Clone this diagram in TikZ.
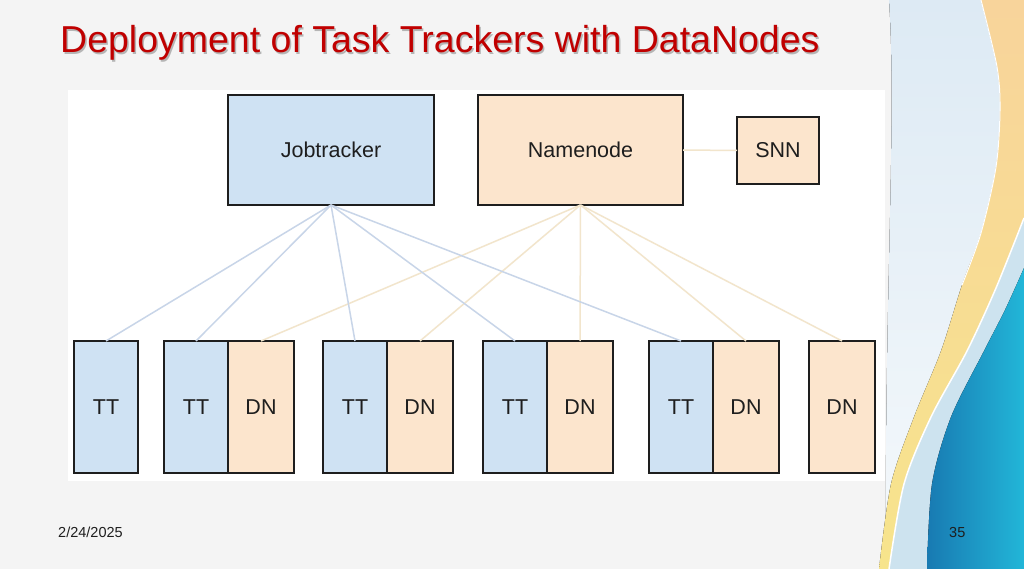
\documentclass[tikz,border=0pt]{standalone}
\usepackage{xcolor}
\usepackage{fontspec}
\setmainfont{Liberation Sans}
\usepackage{tikz}
\usetikzlibrary{positioning}
\definecolor{hdRed}{RGB}{192, 0, 0}
\definecolor{hdText}{RGB}{30, 30, 30}
\definecolor{hdBorder}{RGB}{30, 30, 30}
\definecolor{hdBlue}{RGB}{207, 226, 243}
\definecolor{hdOrange}{RGB}{252, 229, 205}
\definecolor{hdBlueLine}{RGB}{200, 213, 232}
\definecolor{hdOrangeLine}{RGB}{242, 229, 204}
\definecolor{hdSlide}{RGB}{244, 244, 244}
\definecolor{hdPale}{RGB}{221, 234, 244}
\definecolor{hdSky}{RGB}{205, 227, 239}
\definecolor{hdAmber}{RGB}{248, 212, 155}
\definecolor{hdYellow}{RGB}{247, 228, 140}
\definecolor{hdDeep}{RGB}{24, 122, 178}
\definecolor{hdCyan}{RGB}{34, 182, 216}
\tikzset{
    base/.style={
        font=\fontsize{21.5}{25}\selectfont,
        text=hdText,
        align=center,
        inner sep=0pt,
        outer sep=0pt
    },
    master/.style={
        base,
        rectangle,
        draw=hdBorder,
        line width=2pt
    },
    tracker/.style={
        master,
        fill=hdBlue,
        minimum width=64pt,
        minimum height=132pt
    },
    datanode/.style={
        master,
        fill=hdOrange,
        minimum width=66pt,
        minimum height=132pt
    },
    jlink/.style={
        hdBlueLine,
        line width=1.5pt
    },
    nlink/.style={
        hdOrangeLine,
        line width=1.5pt
    },
    footer/.style={
        font=\fontsize{14.5}{16}\selectfont,
        text=hdText,
        inner sep=0pt,
        anchor=base west
    }
}

\begin{document}
\begin{tikzpicture}[x=1pt, y=-1pt]
  \useasboundingbox (0,0) rectangle (1024,569);

  % Slide background
  \fill[hdSlide] (0,0) rectangle (1024,569);
  \fill[top color=hdPale, bottom color=white!70!hdPale]
    (889,0) .. controls (897,120) and (884,300) .. (886,569) -- (1024,569) -- (1024,0) -- cycle;
  \fill[top color=hdAmber, bottom color=hdYellow]
    plot[smooth] coordinates {(981,0) (997,67) (1000,110) (996,167) (981,233) (962,285) (941,351) (914,417) (891,484) (879,569)}
    -- plot[smooth] coordinates {(889,569) (904,484) (931,417) (967,351) (996,288) (1024,218)}
    -- (1024,0) -- cycle;
  \draw[white, line width=1pt]
    plot[smooth] coordinates {(981,0) (997,67) (1000,110) (996,167) (981,233) (962,285)};
  \fill[hdSky]
    plot[smooth] coordinates {(889,569) (904,484) (931,417) (967,351) (996,288) (1024,218)}
    -- (1024,569) -- cycle;
  \draw[white, line width=1.5pt]
    plot[smooth] coordinates {(889,569) (904,484) (931,417) (967,351) (996,288) (1024,218)};
  \fill[left color=hdDeep, right color=hdCyan]
    plot[smooth] coordinates {(1024,268) (1005,310) (984,351) (951,417) (932,484) (927,569)}
    -- (1024,569) -- cycle;

  % Title
  \node[anchor=base west, inner sep=0pt, font=\fontsize{37.5}{42}\selectfont, text=black!45, opacity=0.6] (titleshadow) at (61.5,54.5) {Deployment of Task Trackers with DataNodes};
  \node[anchor=base west, inner sep=0pt, font=\fontsize{37.5}{42}\selectfont, text=hdRed] (title) at (60,53) {Deployment of Task Trackers with DataNodes};

  % Diagram panel
  \fill[white] (68,90) rectangle (885,481);

  % Masters
  \node[master, fill=hdBlue, minimum width=206pt, minimum height=110pt] (jobtracker) at (331,150) {Jobtracker};
  \node[master, fill=hdOrange, minimum width=205pt, minimum height=110pt] (namenode) at (580.5,150) {Namenode};
  \node[master, fill=hdOrange, minimum width=82pt, minimum height=67pt] (snn) at (778,150.5) {SNN};

  % Workers
  \node[tracker] (tt1) at (106,407) {TT};
  \node[tracker] (tt2) at (196,407) {TT};
  \node[datanode, right=0pt of tt2] (dn2) {DN};
  \node[tracker] (tt3) at (355,407) {TT};
  \node[datanode, right=0pt of tt3] (dn3) {DN};
  \node[tracker] (tt4) at (515,407) {TT};
  \node[datanode, right=0pt of tt4] (dn4) {DN};
  \node[tracker] (tt5) at (681,407) {TT};
  \node[datanode, right=0pt of tt5] (dn5) {DN};
  \node[datanode] (dn6) at (842,407) {DN};

  % Namenode links
  \draw[nlink] (namenode.east) -- (snn.west);
  \draw[nlink] (namenode.south) -- (dn2.north);
  \draw[nlink] (namenode.south) -- (dn3.north);
  \draw[nlink] (namenode.south) -- (dn4.north);
  \draw[nlink] (namenode.south) -- (dn5.north);
  \draw[nlink] (namenode.south) -- (dn6.north);

  % Jobtracker links
  \draw[jlink] (jobtracker.south) -- (tt1.north);
  \draw[jlink] (jobtracker.south) -- (tt2.north);
  \draw[jlink] (jobtracker.south) -- (tt3.north);
  \draw[jlink] (jobtracker.south) -- (tt4.north);
  \draw[jlink] (jobtracker.south) -- (tt5.north);

  % Footer
  \node[footer] (date) at (58,537) {2/24/2025};
  \node[footer] (page) at (949,537) {35};
\end{tikzpicture}
\end{document}
